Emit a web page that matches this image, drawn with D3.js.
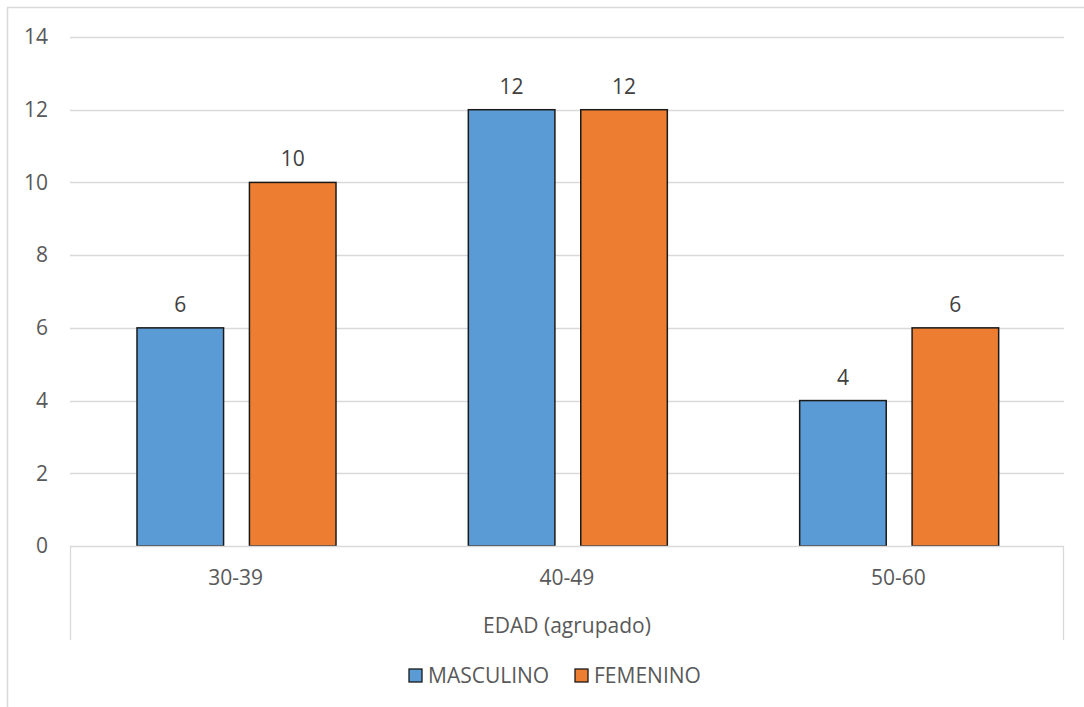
<!DOCTYPE html>
<html>
<head>
<meta charset="utf-8">
<script src="https://cdn.jsdelivr.net/npm/d3@7"></script>
<style>
  html, body { margin: 0; padding: 0; background: #fff; }
  svg { display: block; font-family: "Open Sans", sans-serif; }
</style>
</head>
<body>
<svg id="chart" width="1084" height="707"></svg>
<script>
// Age groups and counts per sex
const categories = ["30-39", "40-49", "50-60"];
const seriesNames = ["MASCULINO", "FEMENINO"];
const masculino = [6, 12, 4];
const femenino = [10, 12, 6];
const yTicks = [0, 2, 4, 6, 8, 10, 12, 14];
const axisTitle = "EDAD (agrupado)";

const colors = ["#5B9BD5", "#ED7D31"];
const seriesValues = [masculino, femenino];
const FONT = 21;

const svg = d3.select("#chart");
const W = 1084, H = 707;
const plot = { left: 70, right: 1064, top: 37, bottom: 546 };

// outer chart frame
svg.append("rect")
  .attr("x", 7.5).attr("y", 7.5)
  .attr("width", W - 6).attr("height", H - 6)
  .attr("fill", "#fff").attr("stroke", "#d9d9d9").attr("stroke-width", 1.5);

const y = d3.scaleLinear().domain([0, 14]).range([plot.bottom, plot.top]);
const x0 = d3.scaleBand().domain(categories).range([plot.left, plot.right]).paddingInner(0).paddingOuter(0);
const x1 = d3.scaleBand().domain(seriesNames).range([67, 67 + 199]).paddingInner(23 / 100).paddingOuter(0);

// horizontal gridlines
svg.append("g").selectAll("line")
  .data(yTicks.filter(d => d > 0))
  .join("line")
  .attr("x1", plot.left).attr("x2", plot.right)
  .attr("y1", d => Math.round(y(d)) + 0.5).attr("y2", d => Math.round(y(d)) + 0.5)
  .attr("stroke", "#d9d9d9").attr("stroke-width", 1.3);

// y tick labels
const yAxis = d3.axisLeft(y).tickValues(yTicks).tickSize(0).tickPadding(0);
const gy = svg.append("g").attr("transform", `translate(48,0)`).call(yAxis);
gy.select(".domain").remove();
gy.selectAll("text")
  .attr("fill", "#595959").attr("font-size", FONT)
  .attr("font-family", "'Open Sans', sans-serif");

// bars
const groups = svg.append("g").selectAll("g")
  .data(categories)
  .join("g")
  .attr("transform", c => `translate(${x0(c)},0)`);

groups.selectAll("rect")
  .data((c, i) => seriesNames.map((s, j) => ({ s, v: seriesValues[j][i], j })))
  .join("rect")
  .attr("x", d => x1(d.s))
  .attr("width", x1.bandwidth())
  .attr("y", d => y(d.v))
  .attr("height", d => y(0) - y(d.v))
  .attr("fill", d => colors[d.j])
  .attr("stroke", "#1a1a1a").attr("stroke-width", 1.5);

// value labels
groups.selectAll("text.val")
  .data((c, i) => seriesNames.map((s, j) => ({ s, v: seriesValues[j][i], j })))
  .join("text")
  .attr("class", "val")
  .attr("x", d => x1(d.s) + x1.bandwidth() / 2)
  .attr("y", d => y(d.v) - 16)
  .attr("text-anchor", "middle")
  .attr("fill", "#404040").attr("font-size", FONT)
  .text(d => d.v);

// category axis: baseline and outer verticals
const ax = svg.append("g").attr("stroke", "#d9d9d9").attr("stroke-width", 1.3);
ax.append("line").attr("x1", plot.left).attr("x2", plot.right)
  .attr("y1", plot.bottom + 0.5).attr("y2", plot.bottom + 0.5);
ax.append("line").attr("x1", plot.left + 0.5).attr("x2", plot.left + 0.5)
  .attr("y1", plot.bottom).attr("y2", 640);
ax.append("line").attr("x1", plot.right - 0.5).attr("x2", plot.right - 0.5)
  .attr("y1", plot.bottom).attr("y2", 640);

// category labels
svg.append("g").selectAll("text")
  .data(categories)
  .join("text")
  .attr("x", c => x0(c) + x0.bandwidth() / 2)
  .attr("y", 585)
  .attr("text-anchor", "middle")
  .attr("fill", "#595959").attr("font-size", FONT)
  .text(c => c);

// axis title
svg.append("text")
  .attr("x", (plot.left + plot.right) / 2).attr("y", 633)
  .attr("text-anchor", "middle")
  .attr("fill", "#595959").attr("font-size", FONT)
  .text(axisTitle);

// legend
const legendX = [409, 575];
const leg = svg.append("g").selectAll("g")
  .data(seriesNames)
  .join("g")
  .attr("transform", (d, i) => `translate(${legendX[i]},669)`);
leg.append("rect")
  .attr("width", 13).attr("height", 13)
  .attr("fill", (d, i) => colors[i])
  .attr("stroke", "#1a1a1a").attr("stroke-width", 1.3);
leg.append("text")
  .attr("x", 19).attr("y", 14)
  .attr("fill", "#595959").attr("font-size", FONT)
  .text(d => d);
</script>
</body>
</html>
